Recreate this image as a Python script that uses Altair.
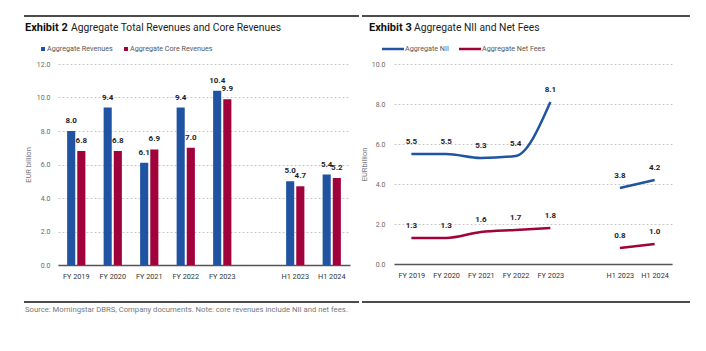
import altair as alt
import pandas as pd

periods = ["FY 2019", "FY 2020", "FY 2021", "FY 2022", "FY 2023", "H1 2023", "H1 2024"]
segments = ["FY", "FY", "FY", "FY", "FY", "H1", "H1"]
axis_domain = ["FY 2019", "FY 2020", "FY 2021", "FY 2022", "FY 2023", " ", "H1 2023", "H1 2024"]
revenues = [8.0, 9.4, 6.1, 9.4, 10.4, 5.0, 5.4]
core_revenues = [6.8, 6.8, 6.9, 7.0, 9.9, 4.7, 5.2]
nii = [5.5, 5.5, 5.3, 5.4, 8.1, 3.8, 4.2]
net_fees = [1.3, 1.3, 1.6, 1.7, 1.8, 0.8, 1.0]
left_y_ticks = [0, 2, 4, 6, 8, 10, 12]
right_y_ticks = [0, 2, 4, 6, 8, 10]
bar_series = ["Aggregate Revenues", "Aggregate Core Revenues"]
line_series = ["Aggregate NII", "Aggregate Net Fees"]

FONT = "Roboto, Liberation Sans, sans-serif"
BLUE = "#2054a3"
RED = "#a0023b"
LABEL = "#1e1e2a"
GRID = "#c8c8c8"
AXLAB = "#6b6560"

bars_df = pd.DataFrame({
    "period": periods * 2,
    "series": [bar_series[0]] * 7 + [bar_series[1]] * 7,
    "value": revenues + core_revenues,
})
lines_df = pd.DataFrame({
    "period": periods * 2,
    "seg": segments * 2,
    "series": [line_series[0]] * 7 + [line_series[1]] * 7,
    "value": nii + net_fees,
})
one = pd.DataFrame({"a": [0]})


def txt(x, y, s, size, weight="normal", color="#222"):
    return alt.Chart(one).mark_text(
        align="left", baseline="middle", font=FONT, fontSize=size,
        fontWeight=weight, color=color, text=s
    ).encode(x=alt.value(x), y=alt.value(y))


def hrule(x1, x2, y, color="#111", w=1.5):
    return alt.Chart(one).mark_rule(color=color, strokeWidth=w).encode(
        x=alt.value(x1), x2=alt.value(x2), y=alt.value(y))


def box(x1, x2, y1, y2, color):
    return alt.Chart(one).mark_rect(color=color).encode(
        x=alt.value(x1), x2=alt.value(x2), y=alt.value(y1), y2=alt.value(y2))


x_axis = alt.Axis(title=None, labelAngle=0, ticks=False, domainColor="#555",
                  domainWidth=1.5, labelFont=FONT, labelFontSize=7.3,
                  labelColor="#333", labelPadding=7, grid=False)

# ---------------- Left panel ----------------
xL = alt.X("period:N", scale=alt.Scale(domain=axis_domain, paddingInner=0.5, paddingOuter=0.25),
           axis=x_axis)
yL = alt.Y("value:Q", scale=alt.Scale(domain=[0, 12], nice=False),
           axis=alt.Axis(title="EUR billion", values=left_y_ticks, format=".1f", ticks=False,
                         domain=False, gridDash=[2, 2], gridColor=GRID, labelPadding=8,
                         titlePadding=4, labelFontSize=7, labelColor=AXLAB))
xoff = alt.XOffset("series:N", sort=bar_series, scale=alt.Scale(paddingInner=0.2))
colL = alt.Color("series:N", scale=alt.Scale(domain=bar_series, range=[BLUE, RED]), legend=None)

bars = alt.Chart(bars_df).mark_bar().encode(x=xL, xOffset=xoff, y=yL, color=colL)
bar_labels = alt.Chart(bars_df).mark_text(
    dy=-10, font=FONT, fontWeight="bold", fontSize=8, color=LABEL, baseline="middle"
).encode(x=xL, xOffset=xoff, y=yL, text=alt.Text("value:Q", format=".1f"))

left = alt.layer(
    bars, bar_labels,
    hrule(-34, 301, -48),
    hrule(-34, 301, 238),
    txt(-33, -36, "Exhibit 2", 11, "bold", "#111"),
    txt(13, -36, "Aggregate Total Revenues and Core Revenues", 10.3, "normal", "#222"),
    box(-17, -13, -17, -13, BLUE),
    txt(-11, -15, bar_series[0], 7.2, "normal", "#555"),
    box(66, 70, -17, -13, RED),
    txt(72, -15, bar_series[1], 7.2, "normal", "#555"),
    txt(-33, 246, "Source: Morningstar DBRS, Company documents. Note: core revenues include NII and net fees.",
        7.7, "normal", "#777"),
).properties(width=292, height=201)

# ---------------- Right panel ----------------
xR = alt.X("period:N", scale=alt.Scale(type="point", domain=axis_domain, padding=0.5), axis=x_axis)
yR = alt.Y("value:Q", scale=alt.Scale(domain=[0, 10], nice=False),
           axis=alt.Axis(title="EURbillion", values=right_y_ticks, format=".1f", ticks=False,
                         domain=False, gridDash=[2, 2], gridColor=GRID, labelPadding=9,
                         titlePadding=3, labelFontSize=7, labelColor=AXLAB))
colR = alt.Color("series:N", scale=alt.Scale(domain=line_series, range=[BLUE, RED]), legend=None)

lines = alt.Chart(lines_df).mark_line(interpolate="monotone", strokeWidth=2.5).encode(
    x=xR, y=yR, color=colR, detail="seg:N")
line_labels = alt.Chart(lines_df).mark_text(
    dy=-12, font=FONT, fontWeight="bold", fontSize=8, color=LABEL, baseline="middle"
).encode(x=xR, y=yR, text=alt.Text("value:Q", format=".1f"))

right = alt.layer(
    lines, line_labels,
    hrule(-32, 296, -48),
    hrule(-32, 296, 238),
    txt(-25, -36, "Exhibit 3", 11, "bold", "#111"),
    txt(20, -36, "Aggregate NII and Net Fees", 10.3, "normal", "#222"),
    hrule(-12, 10, -15, BLUE, 2.5),
    txt(11, -15, line_series[0], 7.2, "normal", "#555"),
    hrule(65, 87, -15, RED, 2.5),
    txt(88, -15, line_series[1], 7.2, "normal", "#555"),
).properties(width=278, height=200)

chart = alt.hconcat(left, right, spacing=0).properties(
    padding={"left": 23, "top": 15, "right": 0, "bottom": 0},
    background="white",
).configure_view(stroke=None).configure_axis(
    labelFont=FONT, titleFont=FONT, titleFontWeight="normal", titleFontSize=7.5,
    titleColor="#777"
)

chart.save("out.html", embed_options={"renderer": "svg", "actions": False})
